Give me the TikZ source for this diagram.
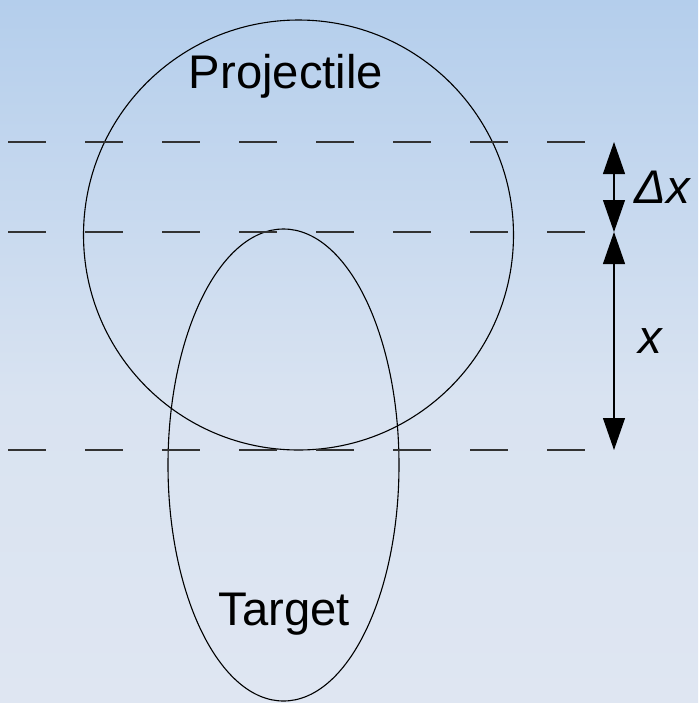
\documentclass[tikz,border=0pt]{standalone}
\usepackage{fontspec}
\setmainfont{Liberation Sans}
\usepackage{tikz}
\usetikzlibrary{arrows.meta,positioning,shapes.geometric,calc}
\definecolor{SkyTop}{HTML}{B4CEEC}
\definecolor{SkyMid}{HTML}{D9E3F1}
\definecolor{SkyBottom}{HTML}{DFE6F2}
\definecolor{LineGray}{HTML}{333333}
\tikzset{
  bodynode/.style={draw,line width=0.55pt,inner sep=0pt},
  levelline/.style={draw=LineGray,line width=0.55pt,dash pattern=on 19pt off 19.5pt},
  labeltext/.style={font=\fontsize{23.6}{28}\selectfont,inner sep=0pt},
  gaparrow/.style={{Triangle[length=16pt,width=11pt]}-{Triangle[length=16pt,width=11pt]},line width=0.55pt}
}

\begin{document}
\begin{tikzpicture}[x=0.5pt,y=-0.5pt]
\shade[top color=SkyTop,bottom color=SkyMid] (0,0) rectangle (698,400);
\shade[top color=SkyMid,bottom color=SkyBottom] (0,399.5) rectangle (698,703);
\useasboundingbox (0,0) rectangle (698,703);
\node[bodynode,circle,minimum size=215pt] (proj) at (298.5,235) {};
\node[bodynode,ellipse,minimum width=115.5pt,minimum height=236pt] (targ) at (283.5,465) {};
\node[labeltext] (projlbl) at (286,76) {Projectile};
\node[labeltext] (targlbl) at (284,614) {Target};
% level lines
\coordinate (awest) at (8,142); \coordinate (aeast) at (585,142); \coordinate (amark) at (614,142);
\coordinate (bwest) at (8,232); \coordinate (beast) at (585,232); \coordinate (bmark) at (614,232);
\coordinate (cwest) at (8,450); \coordinate (ceast) at (585,450); \coordinate (cmark) at (614,450);
\foreach \n in {a,b,c} \draw[levelline] (\n west) -- (\n east);
\draw[gaparrow] (amark) -- (bmark);
\draw[gaparrow] (bmark) -- (cmark);
\node[labeltext,right=10pt of {$(amark)!0.5!(bmark)$}] (dxlbl) {\itshape Δx};
\node[labeltext,right=12pt of {$(bmark)!0.5!(cmark)$}] (xlbl) {\itshape x};
\end{tikzpicture}
\end{document}
